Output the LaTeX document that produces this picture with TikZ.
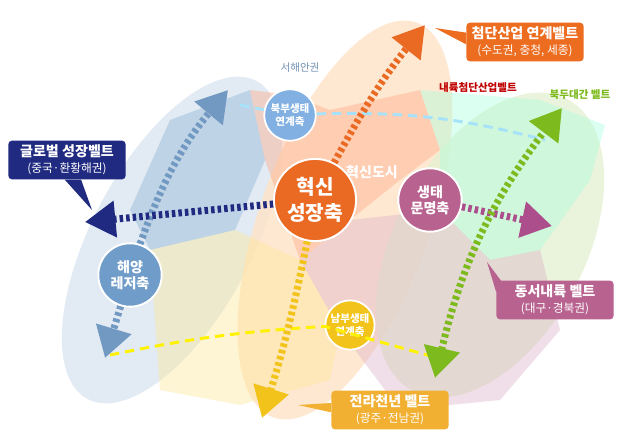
\documentclass[tikz,border=0pt]{standalone}
\usepackage{fontspec}
\setmainfont{Noto Sans CJK KR}
\usetikzlibrary{arrows.meta,positioning}
\definecolor{seablue}{HTML}{6F9CC9}
\definecolor{coreor}{HTML}{EA6A24}
\definecolor{ecomv}{HTML}{B8628F}
\definecolor{navy}{HTML}{1F2A80}
\definecolor{beltgrn}{HTML}{7DBA1E}
\definecolor{beltyel}{HTML}{F2C31A}
\definecolor{beltor}{HTML}{F2B032}
\tikzset{
  zone/.style={opacity=0.4, draw=none},
  axis/.style={circle, draw=white, line width=1.5pt, text=white, font=\bfseries\large, align=center, inner sep=1pt},
  belt/.style={rounded corners=3pt, text=white, font=\bfseries\large, align=center, minimum width=100pt, minimum height=33pt},
  dotarrow/.style={line width=6pt, dash pattern=on 3pt off 2.6pt, -{Triangle[length=26pt,width=30pt]}},
  link/.style={line width=2.5pt, dash pattern=on 8pt off 5pt}
}
\begin{document}
\begin{tikzpicture}[x=0.3mm,y=-0.3mm]
  \useasboundingbox (0,0) rectangle (625,444);
  \fill[white] (0,0) rectangle (625,444);
  % Ellipses
  \fill[seablue!25, opacity=0.8] (172,240) ellipse[x radius=180, y radius=80, rotate=62];
  \fill[orange!22, opacity=0.8] (345,220) ellipse[x radius=210, y radius=85, rotate=70];
  \fill[beltgrn!20, opacity=0.8] (490,245) ellipse[x radius=165, y radius=95, rotate=62];
  % Map regions
  \fill[zone, fill=seablue!80] (170,120) -- (250,90) -- (265,160) -- (235,230) -- (150,250) -- (130,210) -- cycle;
  \fill[zone, fill=orange!60!red!50] (250,90) -- (290,95) -- (330,110) -- (420,90) -- (440,150) -- (400,180) -- (350,220) -- (300,260) -- (265,160) -- cycle;
  \fill[zone, fill=green!40!cyan!35] (420,90) -- (540,100) -- (605,125) -- (590,180) -- (540,250) -- (490,260) -- (440,210) -- (440,150) -- cycle;
  \fill[zone, fill=ecomv!50] (350,220) -- (440,210) -- (490,260) -- (540,250) -- (560,330) -- (500,400) -- (400,410) -- (340,330) -- (300,260) -- cycle;
  \fill[zone, fill=yellow!60!orange!40] (150,250) -- (235,230) -- (300,260) -- (340,330) -- (330,380) -- (240,405) -- (160,390) -- cycle;
  % Link dashes
  \node[axis, fill=cyan!60!blue!50, minimum size=44pt, font=\bfseries\small] (north) at (290,115) {북부생태\\연계축};
  \node[axis, fill=beltyel, minimum size=42pt, font=\bfseries\small] (south) at (350,325) {남부생태\\연계축};
  \coordinate (nw) at (240,105);
  \coordinate (ne) at (545,140);
  \coordinate (sw) at (110,355);
  \coordinate (se) at (445,360);
  \draw[link, cyan!35] (nw) -- (north) to[bend left=8] (ne);
  \draw[link, yellow] (sw) to[bend left=4] (south) -- (se);
  % Belt arrows
  \coordinate (ctop) at (425,25);
  \coordinate (cbot) at (262,418);
  \coordinate (wend) at (85,222);
  \coordinate (eend) at (552,226);
  \coordinate (btop) at (228,90);
  \coordinate (bbot) at (105,358);
  \coordinate (gtop) at (562,108);
  \coordinate (gbot) at (435,378);
  \node[axis, fill=coreor, minimum size=70pt, font=\bfseries\LARGE] (core) at (315,200) {혁신\\성장축};
  \node[axis, fill=ecomv, minimum size=54pt] (eco) at (430,200) {생태\\문명축};
  \node[axis, fill=seablue, minimum size=54pt] (sea) at (130,275) {해양\\레저축};
  \draw[dotarrow, seablue!90!gray] (sea) to[bend left=10] (btop);
  \draw[dotarrow, seablue!90!gray] (sea) -- (bbot);
  \draw[dotarrow, coreor] (core) to[bend left=5] (ctop);
  \draw[dotarrow, beltyel] (core) to[bend left=3] (cbot);
  \draw[dotarrow, navy] (core) -- (wend);
  \draw[dotarrow, ecomv!80!violet] (eco) -- (eend);
  \draw[dotarrow, beltgrn, {Triangle[length=26pt,width=30pt]}-{Triangle[length=26pt,width=30pt]}] (gbot) to[bend left=12] (gtop);
  \node[axis, fill=coreor, minimum size=70pt, font=\bfseries\LARGE] at (core) {혁신\\성장축};
  \node[axis, fill=ecomv, minimum size=54pt] at (eco) {생태\\문명축};
  \node[axis, fill=seablue, minimum size=54pt] at (sea) {해양\\레저축};
  % Callouts
  \node[belt, fill=coreor!90!orange] (hitech) at (525,42) {첨단산업 연계벨트\\{\normalsize\mdseries (수도권, 충청, 세종)}};
  \node[belt, fill=navy] (global) at (67,160) {글로벌 성장벨트\\{\normalsize\mdseries (중국·환황해권)}};
  \node[belt, fill=ecomv] (inland) at (555,300) {동서내륙 벨트\\{\normalsize\mdseries (대구·경북권)}};
  \node[belt, fill=beltor] (jeolla) at (390,410) {전라천년 벨트\\{\normalsize\mdseries (광주·전남권)}};
  \fill[coreor!90!orange] ([yshift=-2pt]hitech.west) -- (435,28) -- ([yshift=8pt]hitech.west) -- cycle;
  \fill[navy] ([xshift=-2pt]global.south) -- (92,210) -- ([xshift=12pt]global.south) -- cycle;
  \fill[ecomv] ([xshift=4pt]inland.north west) -- (487,262) -- ([yshift=-10pt]inland.north west) -- cycle;
  \fill[beltor] ([yshift=-2pt]jeolla.west) -- (298,405) -- ([yshift=6pt]jeolla.west) -- cycle;
  % Labels
  \node[text=seablue!70!gray, font=\small] (westcoast) at (300,68) {서해안권};
  \node[text=red!75!black, font=\small\bfseries] (inlandhi) at (478,88) {내륙첨단산업벨트};
  \node[text=beltgrn, font=\small\bfseries] (baekdu) at (580,95) {북두대간 벨트};
  \node[text=white, font=\large\bfseries] (city) at (372,172) {혁신도시};
\end{tikzpicture}
\end{document}
